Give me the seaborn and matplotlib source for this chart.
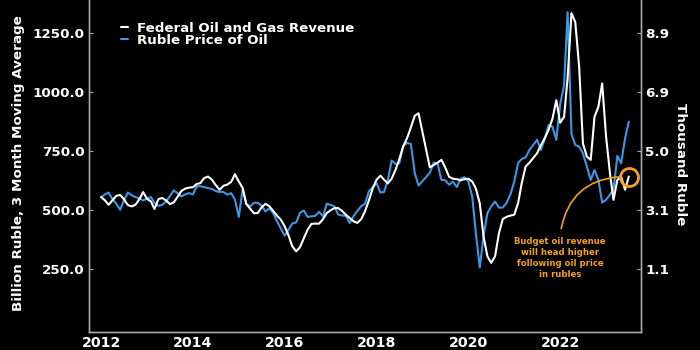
import matplotlib
matplotlib.use("Agg")
import matplotlib.pyplot as plt
import matplotlib.dates as mdates
import pandas as pd
import seaborn as sns

# ---------------- data ----------------
start_month = "2012-01-01"

# Federal oil and gas revenue, billion rubles, 3-month moving average (monthly)
revenue = [
    554, 540, 521, 540, 559, 563, 545, 520, 514, 521, 545, 575,
    546, 535, 503, 545, 550, 540, 524, 531, 555, 580, 590, 594,
    596, 610, 613, 635, 641, 628, 605, 585, 602, 607, 618, 651,
    620, 592, 525, 505, 485, 486, 510, 525, 515, 495, 475, 458,
    429, 390, 345, 323, 340, 378, 415, 440, 441, 441, 460, 486,
    498, 507, 507, 495, 479, 465, 451, 444, 460, 493, 540, 590,
    628, 645, 628, 612, 632, 670, 715, 770, 805, 850, 900, 910,
    830, 750, 680, 690, 700, 712, 680, 640, 632, 630, 625, 630,
    632, 620, 590, 528, 387, 302, 274, 302, 401, 460, 470, 475,
    479, 530, 613, 684, 700, 720, 740, 775, 805, 840, 888, 966,
    870, 895, 1060, 1336, 1298, 1107, 782, 726, 712, 895, 938, 1037,
    811, 655, 542, 627, 641, 585, 641,
]

# Ruble price of oil, thousand rubles (monthly)
oil_price = [
    3.47, 3.56, 3.62, 3.40, 3.25, 3.05, 3.36, 3.62, 3.53, 3.47, 3.42, 3.36,
    3.42, 3.47, 3.28, 3.18, 3.21, 3.32, 3.50, 3.69, 3.60, 3.49, 3.56, 3.60,
    3.56, 3.83, 3.83, 3.80, 3.77, 3.74, 3.67, 3.64, 3.64, 3.55, 3.60, 3.38,
    2.81, 3.75, 3.25, 3.16, 3.28, 3.28, 3.19, 2.99, 3.10, 2.94, 2.67, 2.43,
    2.19, 2.39, 2.59, 2.63, 2.94, 3.03, 2.81, 2.83, 2.85, 2.98, 2.83, 3.25,
    3.21, 3.16, 2.89, 2.86, 2.85, 2.61, 2.83, 3.01, 3.17, 3.25, 3.66, 3.80,
    3.93, 3.62, 3.64, 4.04, 4.68, 4.57, 4.59, 5.16, 5.27, 5.23, 4.26, 3.85,
    4.00, 4.14, 4.28, 4.61, 4.59, 4.04, 4.03, 3.88, 3.98, 3.80, 4.08, 4.13,
    3.99, 3.49, 2.27, 1.14, 2.17, 2.94, 3.16, 3.32, 3.12, 3.12, 3.28, 3.56,
    3.99, 4.61, 4.73, 4.79, 5.03, 5.20, 5.37, 5.03, 5.42, 5.86, 5.80, 5.37,
    6.56, 7.18, 9.60, 5.55, 5.20, 5.14, 4.92, 4.49, 4.04, 4.37, 4.04, 3.29,
    3.38, 3.55, 3.71, 4.84, 4.59, 5.42, 5.97,
]

series_names = ["Federal Oil and Gas Revenue", "Ruble Price of Oil"]
left_ticks = [250, 500, 750, 1000, 1250]
right_tick_labels = ["1.1", "3.1", "5.0", "6.9", "8.9"]
left_label = "Billion Ruble, 3 Month Moving Average"
right_label = "Thousand Ruble"
note = "Budget oil revenue\nwill head higher\nfollowing oil price\nin rubles"

# axis relationship: thousand rubles = R0 + RK * billion rubles
R0, RK = -0.85, 0.0078
left_ylim = (-20, 1392)
x_range = ("2011-09-27", "2023-10-06")

# ---------------- styling ----------------
WHITE = "#ffffff"
BLUE = "#3d97e3"
ORANGE = "#f5a01c"
GREY = "#a8a8a8"

dates = pd.date_range(start_month, periods=len(revenue), freq="MS")
df = pd.DataFrame({"date": dates, "revenue": revenue, "oil": oil_price})

sns.set_theme(style="dark")
plt.rcParams["font.family"] = ["DejaVu Sans"]
plt.rcParams["font.weight"] = "bold"

fig = plt.figure(figsize=(7, 3.5), dpi=100, facecolor="black")
ax = fig.add_axes([89 / 700, 18 / 350, 552 / 700, 332 / 350])
ax2 = ax.twinx()
ax.set_zorder(ax2.get_zorder() + 1)
ax.patch.set_visible(False)
ax2.patch.set_visible(True)
ax2.patch.set_facecolor("black")

sns.lineplot(data=df, x="date", y="oil", ax=ax2, color=BLUE, linewidth=1.5,
             legend=False)
sns.lineplot(data=df, x="date", y="revenue", ax=ax, color=WHITE, linewidth=1.5,
             legend=False)

ax.set_xlim(pd.Timestamp(x_range[0]), pd.Timestamp(x_range[1]))
ax.set_ylim(*left_ylim)
ax2.set_ylim(R0 + RK * left_ylim[0], R0 + RK * left_ylim[1])

ax.set_yticks(left_ticks)
ax.set_yticklabels([f"{v:.1f}" for v in left_ticks])
ax2.set_yticks([R0 + RK * v for v in left_ticks])
ax2.set_yticklabels(right_tick_labels)

ax.xaxis.set_major_locator(mdates.YearLocator(2))
ax.xaxis.set_minor_locator(mdates.YearLocator(1))
ax.xaxis.set_major_formatter(mdates.DateFormatter("%Y"))

ax.set_xlabel("")
ax.set_ylabel(left_label, color=WHITE, fontsize=9.7, fontweight="bold",
              va="center")
ax.yaxis.set_label_coords(-0.128, 0.51)
ax2.set_ylabel(right_label, color=WHITE, fontsize=9.7, fontweight="bold",
               rotation=270, va="center")
ax2.yaxis.set_label_coords(1.071, 0.505)

for a in (ax, ax2):
    a.spines["top"].set_visible(False)
    for side in ("left", "right", "bottom"):
        a.spines[side].set_color(GREY)
        a.spines[side].set_linewidth(1.0)
    a.grid(False)

ax.tick_params(axis="y", direction="in", length=3, width=0.8, color=GREY,
               labelcolor=WHITE, labelsize=9.7, pad=3)
ax2.tick_params(axis="y", direction="in", length=3, width=0.8, color=GREY,
                labelcolor=WHITE, labelsize=9.7, pad=3)
ax.tick_params(axis="x", which="major", direction="in", length=6, width=0.8,
               color=GREY, labelcolor=WHITE, labelsize=10.2, pad=3)
ax.tick_params(axis="x", which="minor", direction="in", length=4, width=0.8,
               color=GREY)
for lbl in ax.get_xticklabels() + ax.get_yticklabels() + ax2.get_yticklabels():
    lbl.set_fontweight("bold")

# legend
handles = [ax.get_lines()[0], ax2.get_lines()[0]]
leg = ax.legend(handles, series_names, loc="upper left",
                bbox_to_anchor=(0.036, 0.97), frameon=False,
                handlelength=0.5, handletextpad=0.7, labelspacing=-0.1,
                prop={"weight": "bold", "size": 9.6})
for t in leg.get_texts():
    t.set_color(WHITE)

# annotation: circle on the latest revenue point, curved leader to the note
last_date, last_val = df["date"].iloc[-1], df["revenue"].iloc[-1]
ax.plot([last_date], [last_val], marker="o", markersize=13,
        markerfacecolor="none", markeredgecolor=ORANGE, markeredgewidth=2,
        zorder=5)
ax.annotate(note, xy=(last_date, last_val), xycoords="data",
            xytext=(0.853, 0.285), textcoords="axes fraction",
            ha="center", va="top", color=ORANGE, fontsize=6.1,
            fontweight="bold", linespacing=1.25,
            arrowprops=dict(arrowstyle="-", color=ORANGE, lw=1.2,
                            connectionstyle="arc3,rad=-0.45",
                            relpos=(0.5, 1.0), shrinkA=4, shrinkB=7))

fig.savefig("out.png", dpi=100, facecolor="black")
